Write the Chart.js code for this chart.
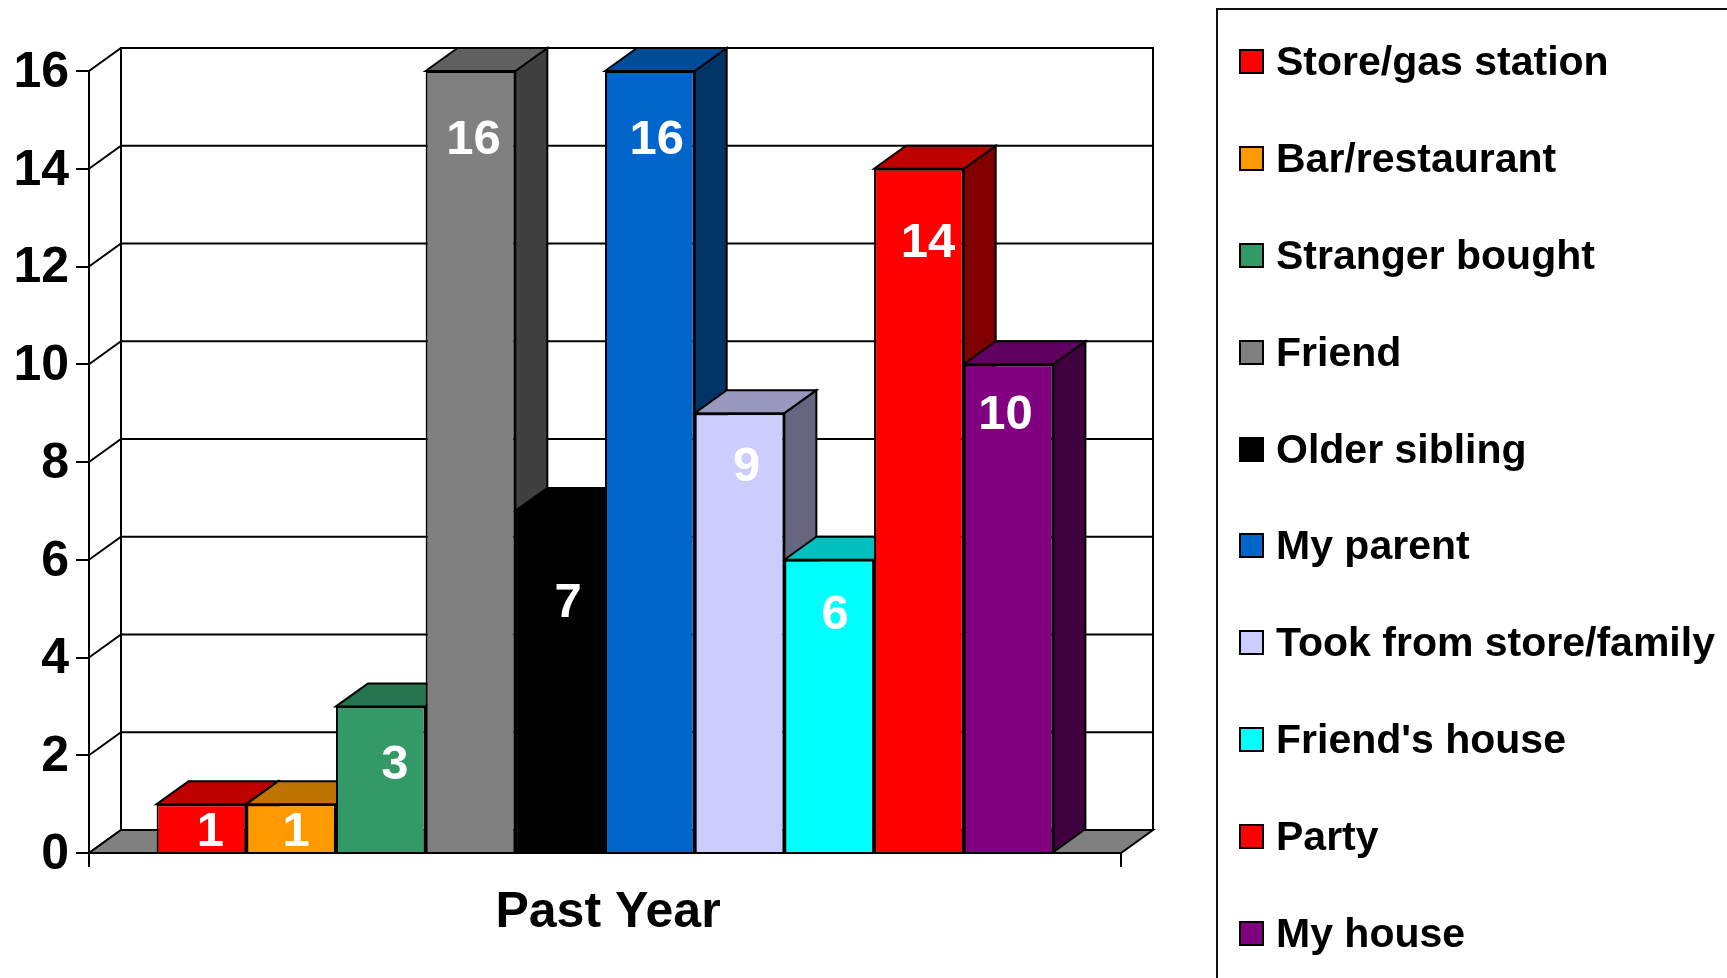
<!DOCTYPE html>
<html>
<head>
<meta charset="utf-8">
<script src="https://cdn.jsdelivr.net/npm/chart.js@4"></script>
<style>
    html, body { margin: 0; padding: 0; background: #fff; overflow: hidden; }
    #wrap { position: relative; width: 1727px; height: 978px; overflow: hidden; }
    #myChart { position: absolute; left: 0; top: 0; }
    #legend {
        position: absolute; left: 1216px; top: 8px; width: 600px; height: 1100px;
        border-left: 2px solid #111; border-top: 2px solid #111; box-sizing: border-box;
        padding-top: 3px; font: bold 41px "Liberation Sans", Arial, sans-serif; color: #000;
    }
    .row { display: flex; align-items: center; height: 96.9px; padding-left: 21px; white-space: nowrap; }
    .swatch { width: 25px; height: 25px; border: 2px solid #000; box-sizing: border-box; margin-right: 12px; flex: none; }
</style>
</head>
<body>
<div id="wrap">
    <canvas id="myChart" width="1727" height="978"></canvas>
    <div id="legend"></div>
</div>
<script>
const period = ['Past Year'];
const sources = ['Store/gas station', 'Bar/restaurant', 'Stranger bought', 'Friend', 'Older sibling',
    'My parent', 'Took from store/family', "Friend's house", 'Party', 'My house'];
const counts = [1, 1, 3, 16, 7, 16, 9, 6, 14, 10];
const yTicks = [0, 2, 4, 6, 8, 10, 12, 14, 16];

const frontColors = ['#FF0000', '#FF9900', '#339966', '#808080', '#000000', '#0066CC', '#CCCCFF', '#00FFFF', '#FF0000', '#800080'];
const topColors = ['#BF0000', '#BF7300', '#267350', '#606060', '#000000', '#004C99', '#9999BF', '#00BFBF', '#BF0000', '#600060'];
const sideColors = ['#800000', '#804D00', '#1A4D33', '#404040', '#000000', '#003366', '#666680', '#008080', '#800000', '#400040'];

// nudges for the value labels, [from bar centre, from bar top]
const labelNudge = [[9, 28], [5, 28], [14, 59], [3, 69], [8, 93], [7, 69], [7, 54], [6, 56], [9, 75], [-3, 51]];

const depthX = 32;
const depthY = 23;
const fontName = '"Liberation Sans", Arial, sans-serif';

function poly(ctx, points, fill) {
    ctx.beginPath();
    points.forEach((p, i) => i ? ctx.lineTo(p[0], p[1]) : ctx.moveTo(p[0], p[1]));
    ctx.closePath();
    if (fill) {
        ctx.fillStyle = fill;
        ctx.fill();
    }
    ctx.stroke();
}

// walls, floor and the top and side faces of the bars
const fake3d = {
    id: 'fake3d',
    beforeDatasetsDraw(chart) {
        const ctx = chart.ctx;
        const area = chart.chartArea;
        const y = chart.scales.y;
        ctx.save();
        ctx.strokeStyle = '#000';
        ctx.lineWidth = 2;
        yTicks.forEach(v => {
            const py = y.getPixelForValue(v);
            ctx.beginPath();
            ctx.moveTo(area.left, py);
            ctx.lineTo(area.left + depthX, py - depthY);
            if (v > 0) ctx.lineTo(area.right + depthX, py - depthY);
            ctx.stroke();
        });
        ctx.beginPath();
        ctx.moveTo(area.left + depthX, area.bottom - depthY);
        ctx.lineTo(area.left + depthX, area.top - depthY);
        ctx.lineTo(area.right + depthX, area.top - depthY);
        ctx.lineTo(area.right + depthX, area.bottom - depthY);
        ctx.stroke();
        poly(ctx, [[area.left, area.bottom], [area.left + depthX, area.bottom - depthY],
            [area.right + depthX, area.bottom - depthY], [area.right, area.bottom]], '#808080');

        chart.data.datasets.forEach((ds, i) => {
            const bar = chart.getDatasetMeta(i).data[0];
            const l = bar.x - bar.width / 2;
            const r = bar.x + bar.width / 2;
            poly(ctx, [[r, bar.y], [r + depthX, bar.y - depthY], [r + depthX, bar.base - depthY], [r, bar.base]], sideColors[i]);
            poly(ctx, [[l, bar.y], [l + depthX, bar.y - depthY], [r + depthX, bar.y - depthY], [r, bar.y]], topColors[i]);
        });
        ctx.restore();
    },
    afterDatasetsDraw(chart) {
        const ctx = chart.ctx;
        ctx.save();
        ctx.fillStyle = '#fff';
        ctx.font = 'bold 49px ' + fontName;
        ctx.textAlign = 'center';
        ctx.textBaseline = 'middle';
        chart.data.datasets.forEach((ds, i) => {
            const bar = chart.getDatasetMeta(i).data[0];
            ctx.fillText(ds.data[0], bar.x + labelNudge[i][0], bar.y + labelNudge[i][1]);
        });
        ctx.restore();
    }
};

const ctx = document.getElementById('myChart').getContext('2d');
const myChart = new Chart(ctx, {
    type: 'bar',
    data: {
        labels: period,
        datasets: sources.map((name, i) => ({
            label: name,
            data: [counts[i]],
            backgroundColor: frontColors[i],
            borderColor: '#000',
            borderWidth: 2
        }))
    },
    options: {
        responsive: false,
        animation: false,
        layout: { padding: { top: 71, right: 606, left: 0, bottom: 0 } },
        datasets: { bar: { barPercentage: 1, categoryPercentage: 0.869 } },
        scales: {
            x: {
                afterFit(scale) { scale.height = 125; },
                border: { color: '#000', width: 2 },
                grid: { offset: true, drawOnChartArea: false, color: '#000', lineWidth: 2, tickLength: 14 },
                ticks: { color: '#000', padding: 16, labelOffset: 3, maxRotation: 0, font: { family: fontName, size: 50, weight: 'bold' } }
            },
            y: {
                min: 0,
                max: 16,
                afterFit(scale) { scale.width = 89; },
                border: { color: '#000', width: 2 },
                grid: { drawOnChartArea: false, color: '#000', lineWidth: 2, tickLength: 13 },
                ticks: { stepSize: 2, color: '#000', padding: 7, labelOffset: 2, font: { family: fontName, size: 50, weight: 'bold' } }
            }
        },
        plugins: {
            legend: { display: false },
            tooltip: { enabled: false }
        }
    },
    plugins: [fake3d]
});

// Legend
const legendBox = document.getElementById('legend');
sources.forEach((name, i) => {
    const row = document.createElement('div');
    row.className = 'row';
    const swatch = document.createElement('span');
    swatch.className = 'swatch';
    swatch.style.background = frontColors[i];
    const text = document.createElement('span');
    text.textContent = name;
    row.appendChild(swatch);
    row.appendChild(text);
    legendBox.appendChild(row);
});
</script>
</body>
</html>
